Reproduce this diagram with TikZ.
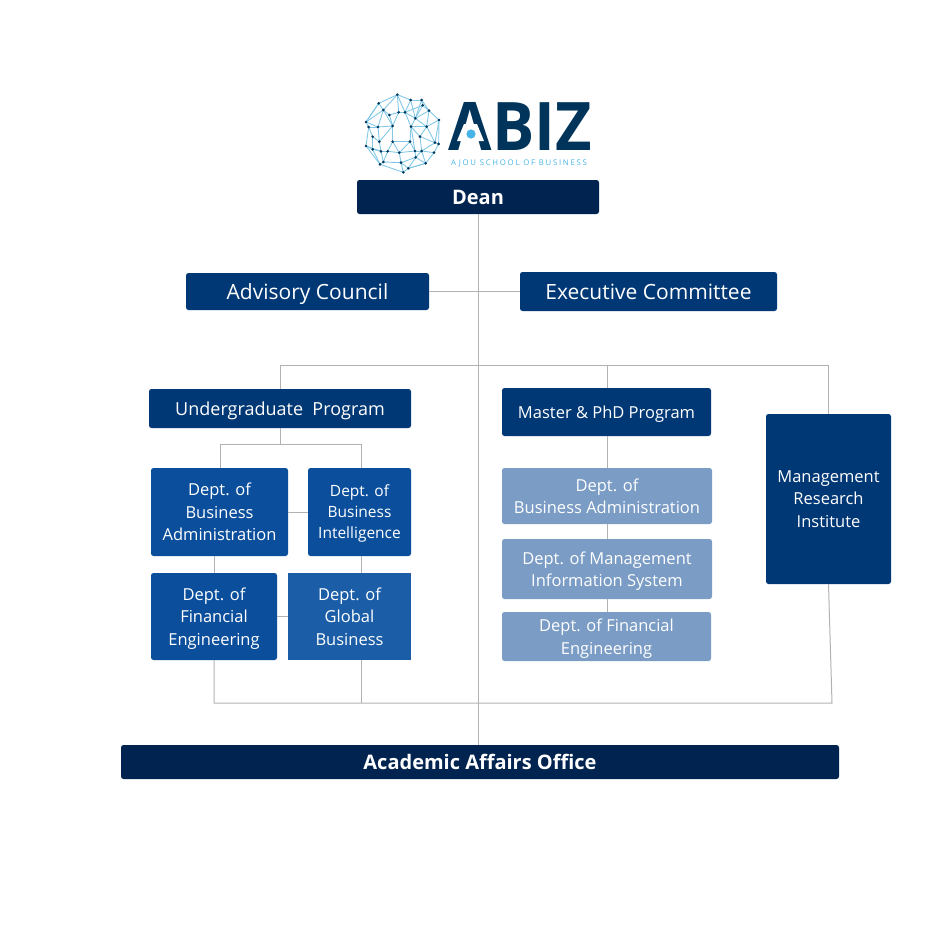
\documentclass[tikz,border=0pt]{standalone}
\usepackage{fontspec}
\usepackage{xcolor}
\usepackage{tikz}
\usetikzlibrary{positioning}
\setmainfont{Open Sans}
\newfontfamily\tagfont[LetterSpace=22]{Open Sans}
\definecolor{nuit}{RGB}{0,35,79}
\definecolor{marine}{RGB}{0,56,117}
\definecolor{roi}{RGB}{11,79,156}
\definecolor{azur}{RGB}{27,94,167}
\definecolor{pale}{RGB}{122,156,197}
\definecolor{lien}{RGB}{178,178,178}
\definecolor{logonavy}{RGB}{0,52,90}
\definecolor{logosky}{RGB}{130,200,230}
\definecolor{logodot}{RGB}{70,180,230}

\begin{document}
\begin{tikzpicture}[x=1pt, y=-1pt,
  b/.style 2 args={rectangle, rounded corners=2.5pt, fill=#1, text=white, text depth=0pt,
                   minimum width=#2, inner sep=0pt, align=center},
  big/.style={font=\fontsize{21}{25}\selectfont},
  mid/.style={font=\fontsize{16.5}{22.5}\selectfont},
  lk/.style={draw=lien, line width=1pt}]
\useasboundingbox (0,0) rectangle (945,945);
% logo
\begin{scope}[shift={(350,80)}, x=0.3333pt, y=-0.3333pt]
\foreach \i/\px/\py in {1/142/44, 2/182/60, 3/215/60, 4/218/76, 5/86/70, 6/100/90, 7/118/105,
  8/146/97, 9/165/97, 10/196/115, 11/237/92, 12/267/120, 13/230/140, 14/183/140, 15/128/138,
  16/84/141, 17/56/141, 18/48/126, 19/88/185, 20/68/170, 21/48/198, 22/68/208, 23/93/214,
  24/113/214, 25/128/185, 26/180/185, 27/148/218, 28/195/213, 29/215/213, 30/210/170,
  31/255/188, 32/266/192, 33/252/218, 34/227/250, 35/197/232, 36/175/265, 37/160/277,
  38/153/248, 39/100/246, 40/90/253}
  \coordinate (p\i) at (\px,\py);
\foreach \a/\b in {1/2, 2/3, 3/4, 4/11, 11/12, 12/32, 32/33, 33/34, 34/36, 36/37, 37/40, 40/21,
  21/17, 17/18, 18/5, 5/1, 1/8, 1/9, 2/9, 2/10, 3/10, 4/10, 4/9, 5/6, 6/7, 7/8, 8/9, 6/16, 6/15,
  7/15, 8/15, 9/14, 9/10, 10/14, 10/13, 11/13, 12/13, 13/14, 14/30, 13/30, 13/31, 12/31, 31/32,
  30/29, 31/29, 33/29, 29/28, 28/26, 26/25, 25/24, 24/23, 23/22, 22/21, 15/16, 16/17, 18/16,
  16/19, 17/20, 20/22, 19/23, 15/19, 15/25, 14/26, 25/27, 26/27, 24/27, 27/28, 27/38, 28/35,
  29/35, 35/36, 35/34, 38/36, 38/39, 39/40, 24/39, 23/39, 22/40, 38/35, 29/34, 14/28, 19/20,
  5/18, 1/6, 3/11, 11/10, 18/6, 37/38, 36/34, 21/23, 30/31}
  \draw[logosky, line width=0.9pt] (p\a) -- (p\b);
\foreach \i in {1,...,40}
  \fill[logonavy] (p\i) circle (4.4);
\end{scope}
\node[text=logonavy, font=\fontsize{67}{67}\bfseries\selectfont, xscale=0.94, inner sep=0pt, text depth=0pt] (abiz) at (520.5,126) {ABIZ};
\fill[white] (464,124) -- (477,124) -- (484,141) -- (457,141) -- cycle;
\fill[logodot] (471,134) circle (4.6);
\node[text=logodot, font=\fontsize{7.8}{9}\tagfont, inner sep=0pt] (tagline) at (519,163.5) {AJOU SCHOOL OF BUSINESS};
% boxes
\node[b={nuit}{242pt}, minimum height=34pt, text depth=-2pt, font=\fontsize{20}{24}\bfseries\selectfont] (dean) at (478,197) {Dean};
\node[b={marine}{243pt}, minimum height=37pt, big] (adv) at (307.5,291.5) {Advisory Council};
\node[b={marine}{257pt}, minimum height=39pt, big] (exec) at (648.5,291.5) {Executive Committee};
\node[b={marine}{262pt}, minimum height=39pt, font=\fontsize{18}{22}\selectfont] (ug) at (280,408.5) {Undergraduate\ \ Program};
\node[b={marine}{209pt}, minimum height=48pt, mid] (ms) at (606.5,412) {Master \& PhD Program};
\node[b={marine}{125pt}, minimum height=170pt, text depth=-2pt, mid] (mri) at (828.5,499) {Management\\Research\\Institute};
\node[b={roi}{137pt}, minimum height=88pt, text depth=-2pt, mid] (ba) at (219.5,512) {Dept. of\\Business\\Administration};
\node[b={roi}{103pt}, minimum height=88pt, font=\fontsize{15.5}{21}\selectfont] (bi) at (359.5,512) {Dept. of\\Business\\Intelligence};
\node[b={roi}{126pt}, minimum height=87pt, mid] (fe) at (214,616.5) {Dept. of\\Financial\\Engineering};
\node[b={azur}{123pt}, minimum height=87pt, rounded corners=0pt, mid] (gb) at (349.5,616.5) {Dept. of\\Global\\Business};
\node[b={pale}{210pt}, minimum height=56pt, text depth=-2pt, mid] (mba) at (607,496) {Dept. of\\Business Administration};
\node[b={pale}{210pt}, minimum height=60pt, mid] (mis) at (607,569) {Dept. of Management\\Information System};
\node[b={pale}{209pt}, minimum height=49pt, mid] (mfe) at (606.5,636.5) {Dept. of Financial\\Engineering};
\node[b={nuit}{718pt}, minimum height=34pt, font=\fontsize{20}{24}\bfseries\selectfont] (acad) at (480,762) {Academic Affairs Office};
% corners of the lines
\coordinate (tl) at (280,365);
\coordinate (tm) at (607,365);
\coordinate (tr) at (828,365);
\coordinate (fl) at (220,444);
\coordinate (fm) at (280,444);
\coordinate (fr) at (361,444);
\coordinate (bl) at (214,703);
\coordinate (bm) at (361,703);
\coordinate (br) at (832,703);
% lines
\draw[lk] (dean.south) -- (acad.north -| dean.south);
\draw[lk] (adv) -- (exec);
\draw[lk] (ug.north) -- (tl) -- (tr) -- (tr |- mri.north);
\draw[lk] (ms.north -| tm) -- (tm);
\draw[lk] (ug.south) -- (fm);
\draw[lk] (ba.north -| fl) -- (fl) -- (fr) -- (bi.north -| fr);
\draw[lk] (ba) -- (bi);
\draw[lk] (ba.south -| fe.north) -- (fe.north);
\draw[lk] (bi.south -| fr) -- (gb.north -| fr);
\draw[lk] (fe) -- (gb);
\draw[lk] (fe.south) -- (bl) -- (br) -- (mri.south);
\draw[lk] (gb.south -| bm) -- (bm);
\draw[lk] (ms.south -| tm) -- (mba.north -| tm);
\draw[lk] (mba.south -| tm) -- (mis.north -| tm);
\draw[lk] (mis.south -| tm) -- (mfe.north -| tm);
\end{tikzpicture}
\end{document}
